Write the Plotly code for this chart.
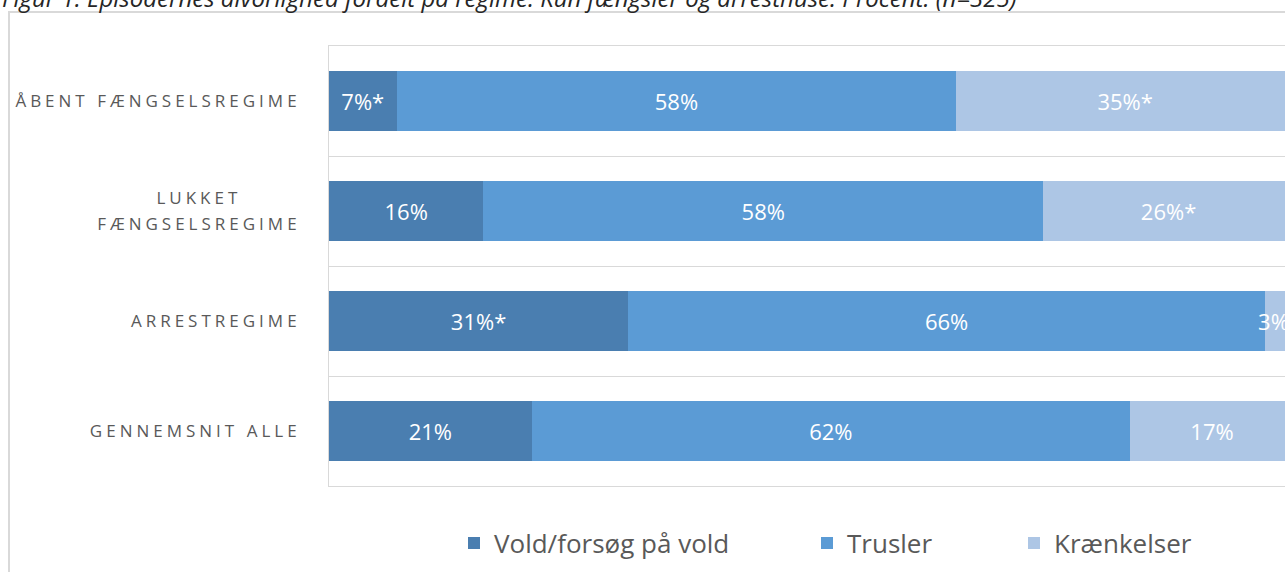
import plotly.graph_objects as go

# ---- data ----
categories = ["ÅBENT FÆNGSELSREGIME", "LUKKET<br>FÆNGSELSREGIME", "ARRESTREGIME", "GENNEMSNIT ALLE"]
series_names = ["Vold/forsøg på vold", "Trusler", "Krænkelser"]
vold = [7, 16, 31, 21]
trusler = [58, 58, 66, 62]
kraenkelser = [35, 26, 3, 17]
vold_star = [True, False, True, False]
trusler_star = [False, False, False, False]
kraenkelser_star = [True, True, True, False]
title_text = "Figur 1. Episodernes alvorlighed fordelt på regime. Kun fængsler og arresthuse. Procent. (n=325)"

colors = ["#4A7EB0", "#5B9BD5", "#ADC6E5"]
FONT = "Open Sans"

W, H = 1285, 572
ML, MR, MT, MB = 329, 0, 46, 86
PW, PH = W - ML - MR, H - MT - MB

def labels(vals, stars):
    return [f"{v}%" + ("*" if s else "") for v, s in zip(vals, stars)]

fig = go.Figure()
legend_ids = ["legend", "legend2", "legend3"]
for name, vals, stars, col, lg in zip(series_names, [vold, trusler, kraenkelser],
                                      [vold_star, trusler_star, kraenkelser_star], colors, legend_ids):
    fig.add_trace(go.Bar(
        y=categories, x=vals, name=name, orientation="h",
        marker=dict(color=col, line=dict(width=0)),
        text=labels(vals, stars), textposition="inside", insidetextanchor="middle",
        constraintext="none", textangle=0,
        textfont=dict(family=FONT, size=22, color="white"),
        hoverinfo="skip", legend=lg,
    ))

def px_to_paper_x(px):
    return (px - ML) / PW

def px_to_paper_y(py):
    return 1 - (py - MT) / PH

legend_text_px = [494, 847, 1054]
leg_common = dict(orientation="h", yanchor="middle", xanchor="left",
                  font=dict(family=FONT, size=26, color="#595959"),
                  bgcolor="rgba(0,0,0,0)", borderwidth=0, itemwidth=30)
legends = {}
for lg, tx in zip(legend_ids, legend_text_px):
    legends[lg] = dict(x=px_to_paper_x(tx - 40), y=px_to_paper_y(543), **leg_common)

fig.update_layout(
    width=W, height=H,
    margin=dict(l=ML, r=MR, t=MT, b=MB, pad=0),
    barmode="stack", bargap=0.45,
    plot_bgcolor="white", paper_bgcolor="white",
    showlegend=True,
    xaxis=dict(range=[0, (W - ML) / 965 * 100], showgrid=False, zeroline=False,
               showticklabels=False, showline=True, mirror=True, linecolor="#D9D9D9",
               linewidth=1, ticks="", fixedrange=True),
    yaxis=dict(categoryorder="array", categoryarray=categories, autorange="reversed",
               tickson="boundaries", showgrid=True, gridcolor="#D9D9D9", gridwidth=1,
               showline=True, linecolor="#D9D9D9", linewidth=1,
               ticks="", ticklabelstandoff=24,
               tickfont=dict(family=FONT, size=17, color="#595959"), fixedrange=True),
    annotations=[dict(
        text=title_text, xref="paper", yref="paper",
        x=px_to_paper_x(0), y=px_to_paper_y(-3), xanchor="left", yanchor="middle",
        showarrow=False, font=dict(family=FONT, size=24, color="#262626", style="italic"),
    )],
    shapes=[dict(type="rect", xref="paper", yref="paper",
                 x0=px_to_paper_x(9), x1=px_to_paper_x(1400),
                 y0=px_to_paper_y(700), y1=px_to_paper_y(12),
                 line=dict(color="#D9D9D9", width=2), fillcolor="rgba(0,0,0,0)", layer="below")],
    **legends,
)

post = r"""
document.body.style.margin = '0';
document.body.style.overflow = 'hidden';
var gd = document.getElementById('{plot_id}');
var st = document.createElement('style');
st.textContent = '.ytick text{letter-spacing:4px}';
document.head.appendChild(st);
function fixLines(){
  gd.querySelectorAll('.ytick text').forEach(function(t){
    var lines = t.querySelectorAll('tspan.line');
    if(lines.length>1){
      var ws=[]; lines.forEach(function(l){ws.push(l.getComputedTextLength());});
      var m=Math.max.apply(null,ws);
      var n=lines.length;
      lines.forEach(function(l,i){
        l.setAttribute('dx', -(m-ws[i])/2);
        l.setAttribute('dy', (i*1.55 - (n-1)*0.125) + 'em');
      });
    }
  });
}
fixLines();
gd.on('plotly_afterplot', fixLines);
"""

fig.write_html("out.html", post_script=post, config={"displayModeBar": False, "responsive": False})
